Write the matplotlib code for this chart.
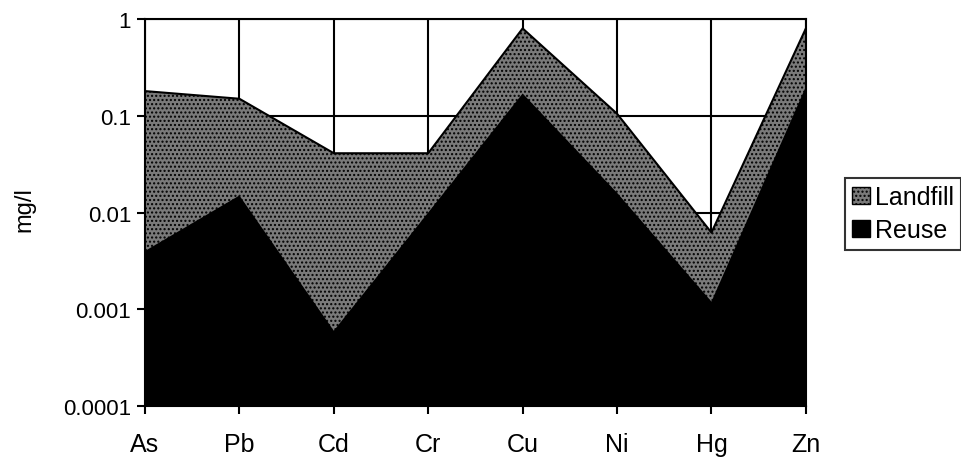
import matplotlib
matplotlib.use("Agg")
import matplotlib.pyplot as plt
import matplotlib.ticker as mticker
import numpy as np

plt.rcParams['font.family'] = ['Liberation Sans', 'DejaVu Sans']
plt.rcParams['hatch.linewidth'] = 1.0

metals = ['As', 'Pb', 'Cd', 'Cr', 'Cu', 'Ni', 'Hg', 'Zn']
landfill = [0.18, 0.15, 0.041, 0.041, 0.8, 0.105, 0.0062, 0.8]
reuse = [0.004, 0.015, 0.0006, 0.01, 0.17, 0.016, 0.0012, 0.2]
yticks = [0.0001, 0.001, 0.01, 0.1, 1]
ytick_labels = ['0.0001', '0.001', '0.01', '0.1', '1']

fig = plt.figure(figsize=(9.62, 4.64), dpi=100)
ax = fig.add_axes([0.1507, 0.1228, 0.687, 0.834])

x = np.arange(len(metals))
base = yticks[0]

# landfill area (speckled grey) with reuse drawn over it in black
ax.fill_between(x, base, landfill, facecolor='#7a7a7a', edgecolor='black',
                hatch='....', linewidth=0, zorder=2)
ax.plot(x, landfill, color='black', lw=1.5, zorder=4)
ax.fill_between(x, base, reuse, facecolor='black', linewidth=0, zorder=3)

ax.set_yscale('log')
ax.set_ylim(yticks[0], yticks[-1])
ax.set_xlim(x[0], x[-1])
ax.yaxis.set_major_locator(mticker.FixedLocator(yticks))
ax.yaxis.set_minor_locator(mticker.NullLocator())
ax.set_yticklabels(ytick_labels, fontsize=16)
ax.set_xticks(x)
ax.set_xticklabels(metals, fontsize=18)
ax.tick_params(axis='x', direction='out', length=6, width=1.5, pad=13)
ax.tick_params(axis='y', direction='out', length=6, width=1.5, pad=4)
ax.grid(True, color='black', lw=1.5, zorder=1)
ax.set_axisbelow(True)
for s in ax.spines.values():
    s.set_linewidth(1.5)
    s.set_zorder(5)

ax.set_ylabel('mg/l', fontsize=17)
ax.yaxis.set_label_coords(-0.166, 0.51)

handles = [plt.Rectangle((0, 0), 1, 1, facecolor='#7a7a7a', edgecolor='black', hatch='....'),
           plt.Rectangle((0, 0), 1, 1, facecolor='black', edgecolor='black')]
leg = ax.legend(handles, ['Landfill', 'Reuse'], loc='center left',
                bbox_to_anchor=(1.059, 0.497), fontsize=18, frameon=True,
                fancybox=False, edgecolor='black', handlelength=0.7,
                handleheight=0.7, handletextpad=0.2, borderpad=0.3,
                labelspacing=0.35, borderaxespad=0.0)
leg.get_frame().set_linewidth(1.5)

fig.savefig('out.png', dpi=100)
